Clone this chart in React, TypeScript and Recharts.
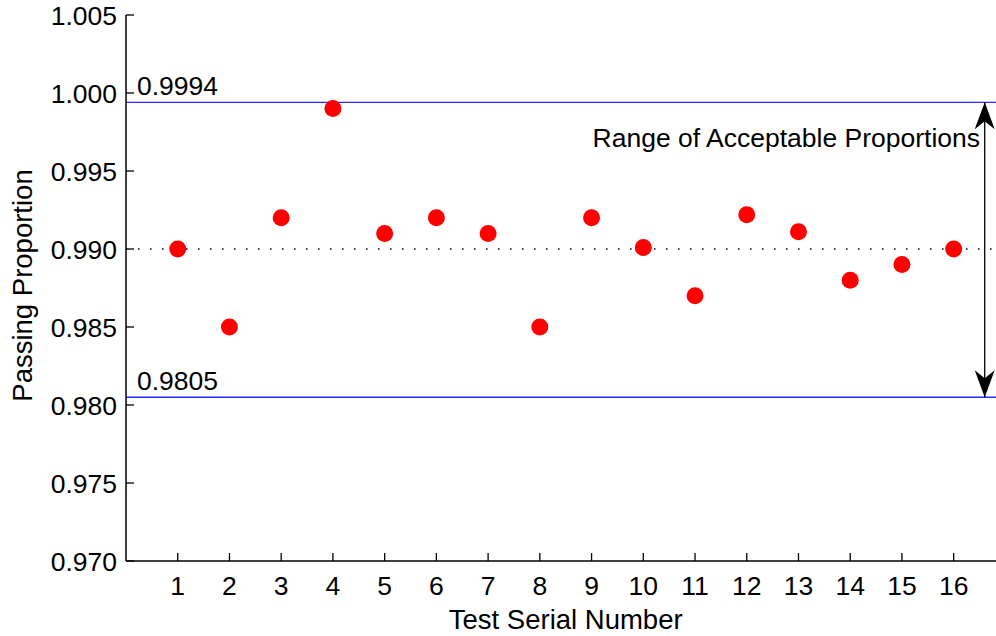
import React from "react";
import {
  Label,
  ReferenceDot,
  ReferenceLine,
  Scatter,
  ScatterChart,
  XAxis,
  YAxis,
} from "recharts";

const testNumbers = [1, 2, 3, 4, 5, 6, 7, 8, 9, 10, 11, 12, 13, 14, 15, 16];
const passingProportions = [
  0.99, 0.985, 0.992, 0.999, 0.991, 0.992, 0.991, 0.985, 0.992, 0.9901, 0.987, 0.9922, 0.9911, 0.988,
  0.989, 0.99,
];
const yTicks = [0.97, 0.975, 0.98, 0.985, 0.99, 0.995, 1.0, 1.005];
const upperLimit = 0.9994;
const lowerLimit = 0.9805;
const nominal = 0.99;
const rangeLabel = "Range of Acceptable Proportions";

const data = testNumbers.map((test, i) => ({ test, value: passingProportions[i] }));

const FONT = "'Liberation Sans', Arial, Helvetica, sans-serif";
const FS = 26.5;
const TITLE_FS = 27.5;
const TICK = 8;

function BottomTick(props: any) {
  const { x, y, payload } = props;
  return (
    <g>
      <line x1={x} x2={x} y1={y} y2={y - TICK} stroke="#000" strokeWidth={1.3} />
      <text x={x} y={y + 34} textAnchor="middle" fontSize={FS} fontFamily={FONT} fill="#000">
        {payload.value}
      </text>
    </g>
  );
}

function TopTick(props: any) {
  const { x, y } = props;
  return <line x1={x} x2={x} y1={y} y2={y + TICK} stroke="#000" strokeWidth={1.3} />;
}

function LeftTick(props: any) {
  const { x, y, payload } = props;
  return (
    <g>
      <line x1={x} x2={x + TICK} y1={y} y2={y} stroke="#000" strokeWidth={1.3} />
      <text x={x - 9} y={y} dy="0.36em" textAnchor="end" fontSize={FS} fontFamily={FONT} fill="#000">
        {Number(payload.value).toFixed(3)}
      </text>
    </g>
  );
}

function limitLabel(text: string) {
  return (props: any) => {
    const vb = props.viewBox;
    return (
      <text x={vb.x + 11} y={vb.y - 7.5} fontSize={FS} fontFamily={FONT} fill="#000">
        {text}
      </text>
    );
  };
}

function DoubleArrow(props: any) {
  const { x1, y1, x2, y2 } = props;
  const top = Math.min(y1, y2);
  const bot = Math.max(y1, y2);
  const x = x1;
  return (
    <g>
      <line x1={x} x2={x2} y1={top} y2={bot} stroke="#000" strokeWidth={1.3} />
      <polygon points={`${x},${top} ${x - 10},${top + 27} ${x},${top + 19} ${x + 10},${top + 27}`} fill="#000" />
      <polygon points={`${x},${bot} ${x - 10},${bot - 27} ${x},${bot - 19} ${x + 10},${bot - 27}`} fill="#000" />
    </g>
  );
}

export default function App() {
  return (
    <div
      style={{
        position: "absolute",
        left: 0,
        top: 0,
        width: 996,
        height: 636,
        overflow: "hidden",
        background: "#fff",
      }}
    >
      <ScatterChart width={1010} height={636} margin={{ top: 15, right: 4.6, bottom: 0, left: 0 }}>
        <XAxis
          dataKey="test"
          type="number"
          domain={[0, 17]}
          ticks={testNumbers}
          allowDataOverflow
          height={75}
          tickSize={0}
          tickMargin={0}
          tickLine={false}
          tick={<BottomTick />}
          axisLine={{ stroke: "#000", strokeWidth: 1.5 }}
        >
          <Label
            content={(p: any) => {
              const vb = p.viewBox;
              return (
                <text
                  x={vb.x + vb.width / 2}
                  y={vb.y + 67.5}
                  textAnchor="middle"
                  fontSize={TITLE_FS}
                  fontFamily={FONT}
                  fill="#000"
                >
                  Test Serial Number
                </text>
              );
            }}
          />
        </XAxis>
        <XAxis
          xAxisId="top"
          orientation="top"
          type="number"
          domain={[0, 17]}
          ticks={testNumbers}
          allowDataOverflow
          height={0}
          tickSize={0}
          tickMargin={0}
          tickLine={false}
          tick={<TopTick />}
          axisLine={{ stroke: "#000", strokeWidth: 1.5 }}
        />
        <YAxis
          dataKey="value"
          type="number"
          domain={[0.97, 1.005]}
          ticks={yTicks}
          allowDataOverflow
          width={126}
          tickSize={0}
          tickMargin={0}
          tickLine={false}
          tick={<LeftTick />}
          axisLine={{ stroke: "#000", strokeWidth: 1.5 }}
        >
          <Label
            content={(p: any) => {
              const vb = p.viewBox;
              const cx = vb.x + 32;
              const cy = vb.y + vb.height / 2 - 2.5;
              return (
                <text
                  x={cx}
                  y={cy}
                  textAnchor="middle"
                  transform={`rotate(-90, ${cx}, ${cy})`}
                  fontSize={TITLE_FS}
                  fontFamily={FONT}
                  fill="#000"
                >
                  Passing Proportion
                </text>
              );
            }}
          />
        </YAxis>
        <ReferenceLine y={upperLimit} stroke="#2a2aff" strokeWidth={1.4} label={limitLabel("0.9994")} />
        <ReferenceLine y={lowerLimit} stroke="#2a2aff" strokeWidth={1.4} label={limitLabel("0.9805")} />
        <Scatter
          data={data}
          isAnimationActive={false}
          shape={(p: any) => <circle cx={p.cx} cy={p.cy} r={8.5} fill="#ff0000" />}
        />
        <ReferenceLine y={nominal} stroke="#000" strokeWidth={1.4} strokeDasharray="1.5 10.5" />
        <ReferenceLine
          segment={[
            { x: 16.6, y: upperLimit },
            { x: 16.6, y: lowerLimit },
          ]}
          shape={<DoubleArrow />}
        />
        <ReferenceDot
          x={16.51}
          y={0.99654}
          r={0}
          fill="none"
          stroke="none"
          label={(p: any) => {
            const vb = p.viewBox;
            return (
              <text x={vb.x} y={vb.y} textAnchor="end" fontSize={FS} fontFamily={FONT} fill="#000">
                {rangeLabel}
              </text>
            );
          }}
        />
      </ScatterChart>
    </div>
  );
}
